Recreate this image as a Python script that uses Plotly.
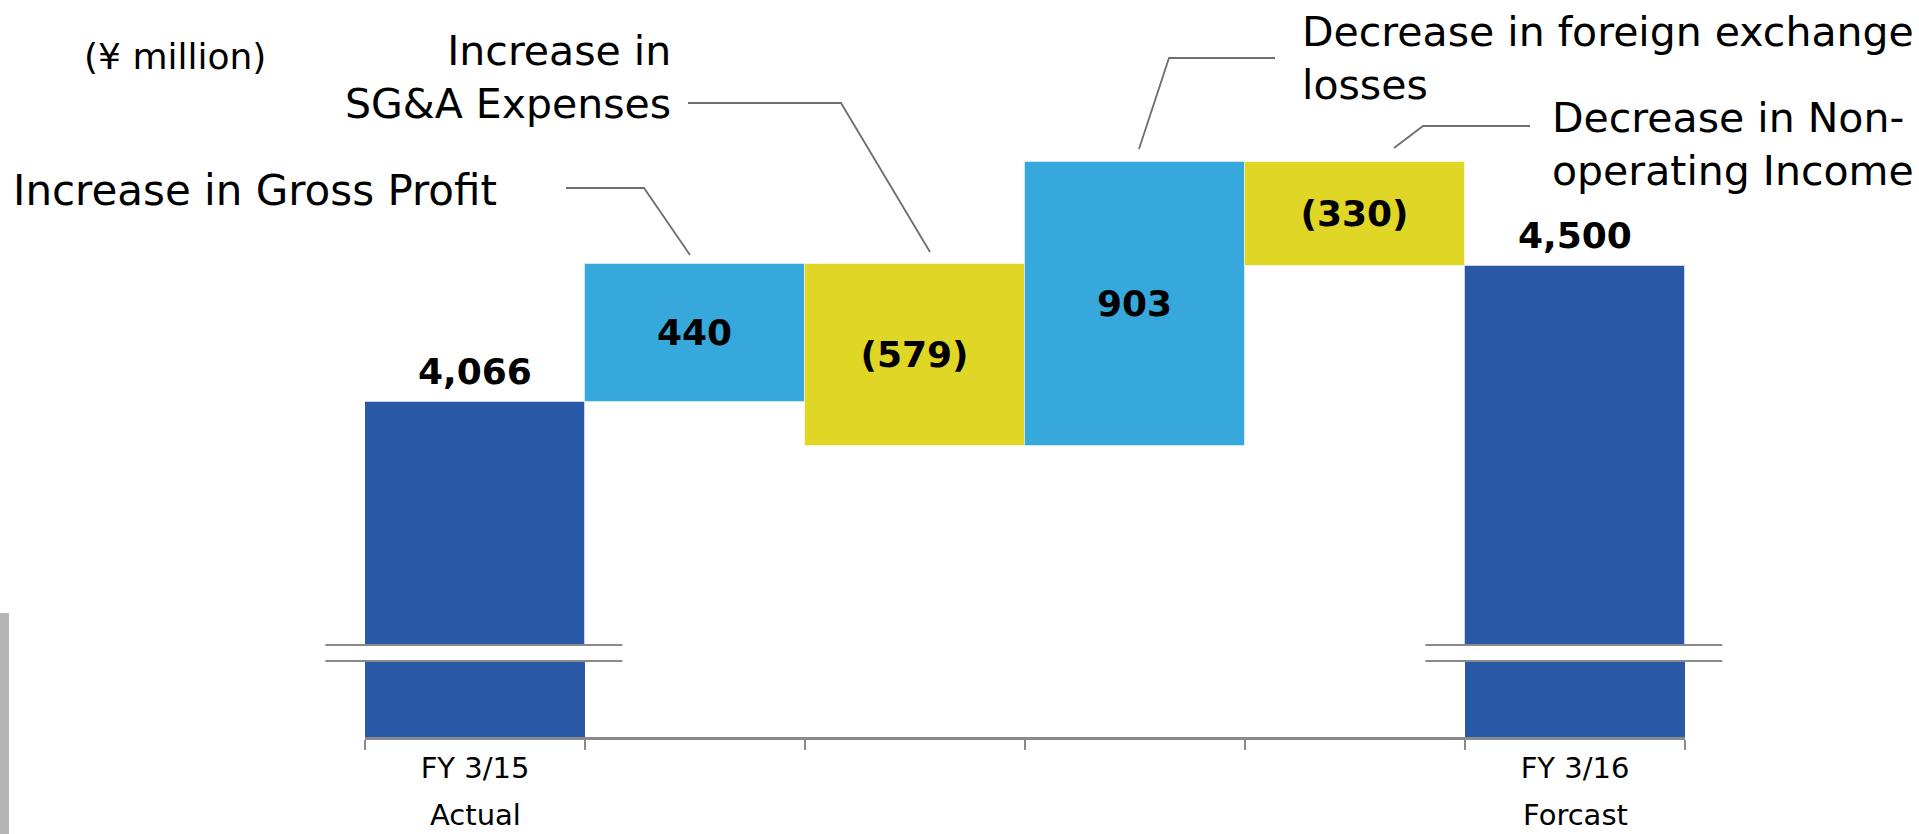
import plotly.graph_objects as go

# ---------------- data ----------------
categories = ["FY 3/15 Actual", "Increase in Gross Profit", "Increase in SG&A Expenses",
              "Decrease in foreign exchange losses", "Decrease in Non-operating Income",
              "FY 3/16 Forcast"]
measures = ["absolute", "relative", "relative", "relative", "relative", "total"]
values = [4066, 440, -579, 903, -330, 4500]
tick_line1 = ["FY 3/15", "", "", "", "", "FY 3/16"]
tick_line2 = ["Actual", "", "", "", "", "Forcast"]
unit_label = "(¥ million)"
callout_texts = ["Increase in Gross Profit", "Increase in<br>SG&A Expenses",
                 "Decrease in foreign exchange<br>losses", "Decrease in Non-<br>operating Income"]

# ---------------- style ----------------
DARK = "#2959A6"
LIGHT = "#36A8DB"
YELLOW = "#E0D626"
GREY = "#8A8A8A"
LINE = "#6E6E6E"
FONT = "DejaVu Sans"

W, H = 1919, 834
L, R, T, B = 365, 234, 100, 97
PW, PH = W - L - R, H - T - B
N = len(categories)


def px(x):
    return (x - L) / PW


def py(y):
    return (H - B - y) / PH


def fmt(v):
    return f"({abs(v):,})" if v < 0 else f"{v:,}"


top_dom = [(737 - 645) / PH, 1.0]
bot_dom = [0.0, (737 - 661) / PH]
top_range = [3291, 5029]
bot_range = [0, 242]

fig = go.Figure()

# main (upper) waterfall
fig.add_trace(go.Waterfall(
    x=categories, y=values, measure=measures,
    xaxis="x2", yaxis="y2",
    text=[fmt(v) if m == "relative" else "" for v, m in zip(values, measures)],
    textposition="inside", insidetextanchor="middle", constraintext="none",
    textfont=dict(family=FONT, size=36, color="black", weight="bold"),
    insidetextfont=dict(family=FONT, size=36, color="black", weight="bold"),
    increasing=dict(marker=dict(color=LIGHT, line=dict(color="rgba(255,255,255,0.5)", width=1))),
    decreasing=dict(marker=dict(color=YELLOW, line=dict(color="rgba(255,255,255,0.5)", width=1))),
    totals=dict(marker=dict(color=DARK, line=dict(color="rgba(255,255,255,0.5)", width=1))),
    connector=dict(visible=False),
    hoverinfo="skip",
))

# lower stub of the broken axis (totals only)
totals_vals = [v if m != "relative" else None for v, m in zip(values, measures)]
fig.add_trace(go.Bar(
    x=categories, y=totals_vals, xaxis="x", yaxis="y",
    marker=dict(color=DARK, line=dict(width=0)), hoverinfo="skip",
))

annotations = []
# total labels above bars
for c, v, m in zip(categories, values, measures):
    if m != "relative":
        annotations.append(dict(x=c, y=v, xref="x2", yref="y2", text=f"<b>{fmt(v)}</b>",
                                showarrow=False, yanchor="bottom", yshift=8,
                                font=dict(family=FONT, size=36, color="black")))
# second tick line
for c, t in zip(categories, tick_line2):
    if t:
        annotations.append(dict(x=c, y=py(815), xref="x", yref="paper", text=t,
                                showarrow=False, yanchor="middle",
                                font=dict(family=FONT, size=29, color="black")))

big = dict(family=FONT, size=41, color="black")
annotations += [
    dict(x=px(175), y=py(57), xref="paper", yref="paper", text=unit_label, showarrow=False,
         xanchor="center", yanchor="middle", font=dict(family=FONT, size=36, color="black")),
    dict(x=px(499), y=py(190), xref="paper", yref="paper", text=callout_texts[0], showarrow=False,
         xanchor="right", yanchor="middle", align="right",
         font=dict(family=FONT, size=42, color="black")),
    dict(x=px(673), y=py(77), xref="paper", yref="paper", text=callout_texts[1], showarrow=False,
         xanchor="right", yanchor="middle", align="right", font=big),
    dict(x=px(1300), y=py(58), xref="paper", yref="paper", text=callout_texts[2], showarrow=False,
         xanchor="left", yanchor="middle", align="left", font=big),
    dict(x=px(1550), y=py(144), xref="paper", yref="paper", text=callout_texts[3], showarrow=False,
         xanchor="left", yanchor="middle", align="left", font=big),
]


def path(points):
    return "M " + " L ".join(f"{px(a):.5f},{py(b):.5f}" for a, b in points)


shapes = []
for pts in [[(566, 188), (644, 188), (690, 255)],
            [(688, 103), (841, 103), (930, 252)],
            [(1139, 149), (1169, 58), (1275, 58)],
            [(1394, 148), (1423, 126), (1530, 126)]]:
    shapes.append(dict(type="path", xref="paper", yref="paper", path=path(pts),
                       line=dict(color=LINE, width=1.8)))

# axis break marks on the total bars (paper refs so they are not clipped)
for i, m in enumerate(measures):
    if m != "relative":
        for yv in (top_dom[0], bot_dom[1]):
            shapes.append(dict(type="line", xref="paper", yref="paper",
                               x0=(i - 0.68 + 0.5) / N, x1=(i + 0.67 + 0.5) / N,
                               y0=yv, y1=yv, line=dict(color=GREY, width=2.2)))

# grey strip on the left edge
shapes.append(dict(type="rect", xref="paper", yref="paper", x0=px(0), x1=px(9),
                   y0=py(834), y1=py(613), fillcolor="#B5B5B5", line=dict(width=0)))

fig.update_layout(
    width=W, height=H, margin=dict(l=L, r=R, t=T, b=B),
    paper_bgcolor="white", plot_bgcolor="white",
    showlegend=False, bargap=0, waterfallgap=0,
    font=dict(family=FONT, color="black"),
    xaxis=dict(domain=[0, 1], anchor="y", type="category", categoryorder="array",
               categoryarray=categories, range=[-0.5, 5.5],
               tickmode="array", tickvals=categories, ticktext=tick_line1,
               tickson="boundaries", ticks="outside", ticklen=10, tickwidth=1.5,
               tickcolor=GREY, showline=True, linecolor=GREY, linewidth=2.5,
               showgrid=False, zeroline=False, ticklabelstandoff=3,
               tickfont=dict(family=FONT, size=29, color="black")),
    yaxis=dict(domain=bot_dom, anchor="x", range=bot_range, visible=False, showgrid=False),
    xaxis2=dict(domain=[0, 1], anchor="y2", matches="x", type="category",
                categoryorder="array", categoryarray=categories, visible=False),
    yaxis2=dict(domain=top_dom, anchor="x2", range=top_range, visible=False, showgrid=False),
    annotations=annotations, shapes=shapes,
)

fig.write_html("out.html", config={"displayModeBar": False},
               post_script="document.body.style.margin='0';")
